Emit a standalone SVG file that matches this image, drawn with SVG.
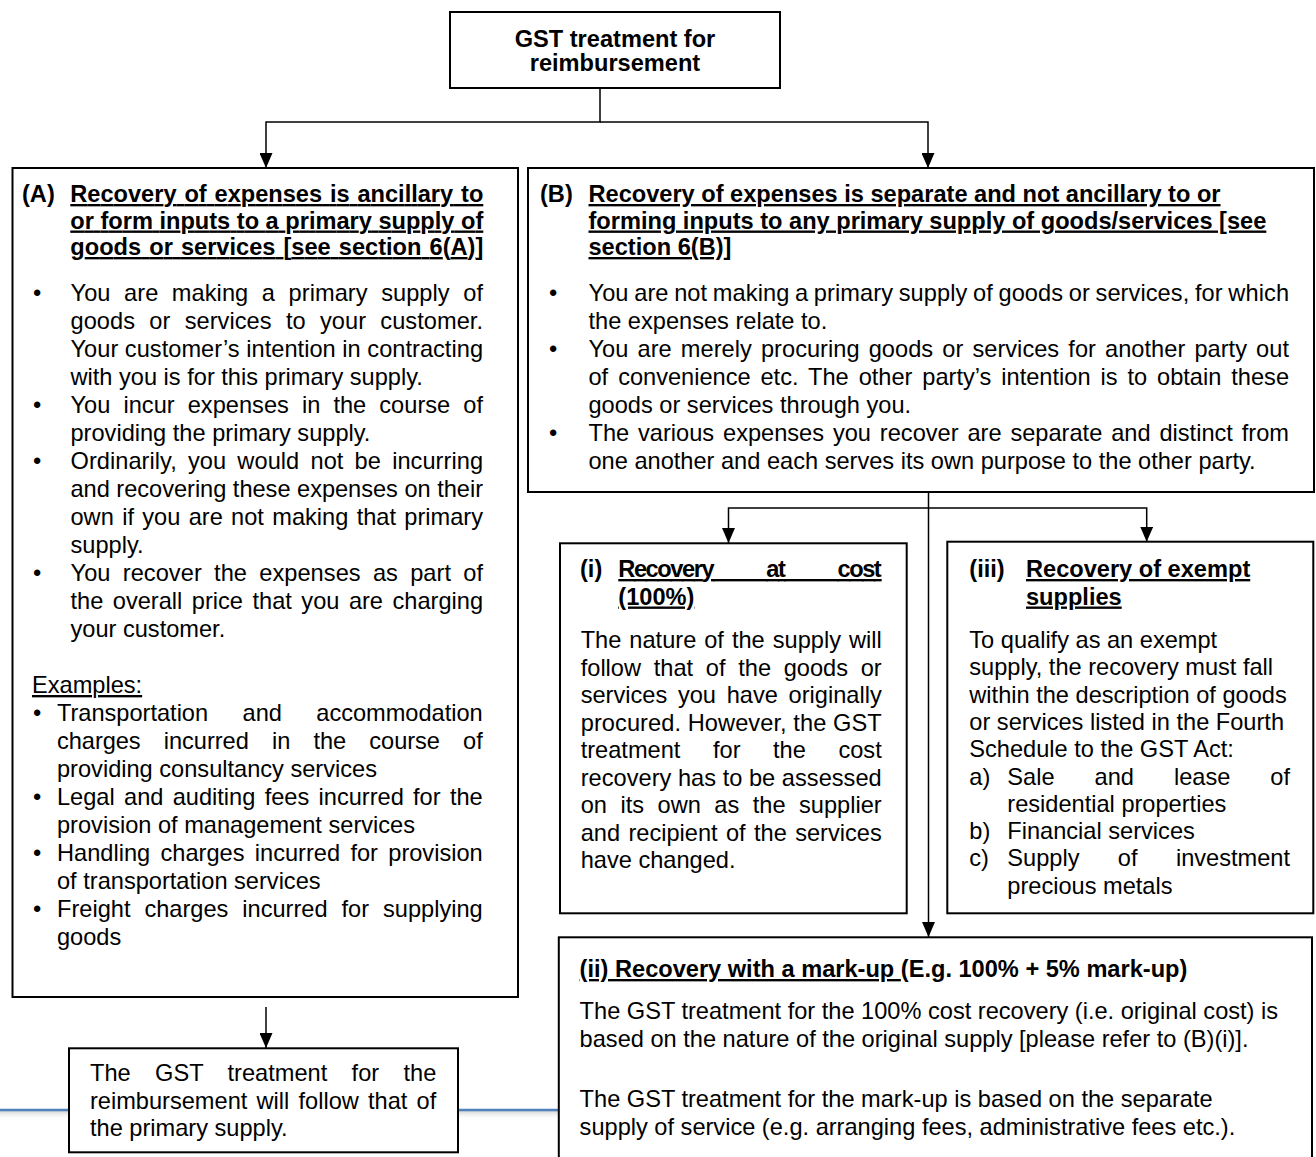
<svg xmlns="http://www.w3.org/2000/svg" width="1316" height="1157" viewBox="0 0 1316 1157">
<style>
.t{font-family:"Liberation Sans",Arial,sans-serif;font-size:23.6px;fill:#000}
.b{font-weight:bold}
.u{text-decoration:underline}
.box{fill:#fff;stroke:#000;stroke-width:2}
.conn{fill:none;stroke:#000;stroke-width:1.5}
.blue{fill:none;stroke:#4f81bd;stroke-width:2.4}
</style>
<defs>
<marker id="arr" markerUnits="userSpaceOnUse" viewBox="0 0 15 13" markerWidth="15" markerHeight="13" refX="15" refY="6.5" orient="auto">
<path d="M0,0 L15,6.5 L0,13 z" fill="#000"/>
</marker>
<linearGradient id="shade" x1="0" y1="0" x2="0" y2="1">
<stop offset="0" stop-color="#d4d4d4"/>
<stop offset="1" stop-color="#ffffff" stop-opacity="0"/>
</linearGradient>
</defs>
<rect width="1316" height="1157" fill="#fff"/>

<g id="decor-line">
<rect x="0" y="1111" width="560" height="9" fill="url(#shade)"/>
<line class="blue" x1="0" y1="1110" x2="560" y2="1110"/>
</g>

<g id="connectors">
<path class="conn" d="M600,88 V122 H266 V168" marker-end="url(#arr)"/>
<path class="conn" d="M600,122 H928 V168" marker-end="url(#arr)"/>
<path class="conn" d="M928.5,492 V937" marker-end="url(#arr)"/>
<path class="conn" d="M928.5,508 H728.5 V543" marker-end="url(#arr)"/>
<path class="conn" d="M928.5,508 H1146.7 V541.7" marker-end="url(#arr)"/>
<path class="conn" d="M266,1007 V1048" marker-end="url(#arr)"/>
</g>

<g id="node-top">
<rect class="box" x="450" y="12" width="330" height="76"/>
<text class="t b" x="615" y="46.5" text-anchor="middle">GST treatment for</text>
<text class="t b" x="615" y="71" text-anchor="middle">reimbursement</text>
</g>

<g id="node-A">
<rect class="box" x="12.5" y="168" width="505.5" height="829"/>
<text class="t b" x="22" y="202">(A)</text>
<text class="t b u" x="70.3" y="202" word-spacing="1.3" textLength="413" lengthAdjust="spacing">Recovery of expenses is ancillary to</text>
<text class="t b u" x="70.3" y="228.5" textLength="413" lengthAdjust="spacing">or form inputs to a primary supply of</text>
<text class="t b u" x="70.3" y="255" word-spacing="1.5" textLength="413" lengthAdjust="spacing">goods or services [see section 6(A)]</text>
<text class="t" x="33" y="301">•</text>
<text class="t" x="70.5" y="301" word-spacing="6.9" textLength="412.5" lengthAdjust="spacing">You are making a primary supply of</text>
<text class="t" x="70.5" y="329" word-spacing="7.7" textLength="412.5" lengthAdjust="spacing">goods or services to your customer.</text>
<text class="t" x="70.5" y="357" textLength="412.5" lengthAdjust="spacing">Your customer’s intention in contracting</text>
<text class="t" x="70.5" y="385">with you is for this primary supply.</text>
<text class="t" x="33" y="413">•</text>
<text class="t" x="70.5" y="413" word-spacing="6.45" textLength="412.5" lengthAdjust="spacing">You incur expenses in the course of</text>
<text class="t" x="70.5" y="441">providing the primary supply.</text>
<text class="t" x="33" y="469">•</text>
<text class="t" x="70.5" y="469" word-spacing="4.6" textLength="412.5" lengthAdjust="spacing">Ordinarily, you would not be incurring</text>
<text class="t" x="70.5" y="497" textLength="412.5" lengthAdjust="spacing">and recovering these expenses on their</text>
<text class="t" x="70.5" y="525" word-spacing="1.8" textLength="412.5" lengthAdjust="spacing">own if you are not making that primary</text>
<text class="t" x="70.5" y="553">supply.</text>
<text class="t" x="33" y="581">•</text>
<text class="t" x="70.5" y="581" word-spacing="5.57" textLength="412.5" lengthAdjust="spacing">You recover the expenses as part of</text>
<text class="t" x="70.5" y="609" word-spacing="2.95" textLength="412.5" lengthAdjust="spacing">the overall price that you are charging</text>
<text class="t" x="70.5" y="637">your customer.</text>
<text class="t u" x="32" y="693">Examples:</text>
<text class="t" x="33" y="721">•</text>
<text class="t" x="57" y="721" word-spacing="27.9" textLength="425.7" lengthAdjust="spacing">Transportation and accommodation</text>
<text class="t" x="57" y="749" word-spacing="16.7" textLength="425.7" lengthAdjust="spacing">charges incurred in the course of</text>
<text class="t" x="57" y="777">providing consultancy services</text>
<text class="t" x="33" y="805">•</text>
<text class="t" x="57" y="805" word-spacing="2.73" textLength="425.7" lengthAdjust="spacing">Legal and auditing fees incurred for the</text>
<text class="t" x="57" y="833">provision of management services</text>
<text class="t" x="33" y="861">•</text>
<text class="t" x="57" y="861" word-spacing="3.8" textLength="425.7" lengthAdjust="spacing">Handling charges incurred for provision</text>
<text class="t" x="57" y="889">of transportation services</text>
<text class="t" x="33" y="917">•</text>
<text class="t" x="57" y="917" word-spacing="7.4" textLength="425.7" lengthAdjust="spacing">Freight charges incurred for supplying</text>
<text class="t" x="57" y="945">goods</text>
</g>

<g id="node-B">
<rect class="box" x="528" y="168" width="786" height="324"/>
<text class="t b" x="540" y="202">(B)</text>
<text class="t b u" x="588.5" y="202">Recovery of expenses is separate and not ancillary to or</text>
<text class="t b u" x="588.5" y="228.5">forming inputs to any primary supply of goods/services [see</text>
<text class="t b u" x="588.5" y="255">section 6(B)]</text>
<text class="t" x="549" y="301">•</text>
<text class="t" x="588.5" y="301" word-spacing="-1" textLength="700.5" lengthAdjust="spacing">You are not making a primary supply of goods or services, for which</text>
<text class="t" x="588.5" y="329">the expenses relate to.</text>
<text class="t" x="549" y="357">•</text>
<text class="t" x="588.5" y="357" word-spacing="2.5" textLength="700.5" lengthAdjust="spacing">You are merely procuring goods or services for another party out</text>
<text class="t" x="588.5" y="385" word-spacing="3.41" textLength="700.5" lengthAdjust="spacing">of convenience etc. The other party’s intention is to obtain these</text>
<text class="t" x="588.5" y="413">goods or services through you.</text>
<text class="t" x="549" y="441">•</text>
<text class="t" x="588.5" y="441" word-spacing="2.34" textLength="700.5" lengthAdjust="spacing">The various expenses you recover are separate and distinct from</text>
<text class="t" x="588.5" y="469">one another and each serves its own purpose to the other party.</text>
</g>

<g id="node-i">
<rect class="box" x="560" y="543.3" width="346.7" height="370"/>
<text class="t b" x="580" y="577">(i)</text>
<text class="t b u" x="618.3" y="577" word-spacing="48" textLength="263.4" lengthAdjust="spacing">Recovery at cost</text>
<text class="t b u" x="618.3" y="604.5">(100%)</text>
<text class="t" x="580.7" y="648" word-spacing="1.44" textLength="301" lengthAdjust="spacing">The nature of the supply will</text>
<text class="t" x="580.7" y="675.5" word-spacing="6.16" textLength="301" lengthAdjust="spacing">follow that of the goods or</text>
<text class="t" x="580.7" y="703" word-spacing="4.17" textLength="301" lengthAdjust="spacing">services you have originally</text>
<text class="t" x="580.7" y="730.5" textLength="301" lengthAdjust="spacing">procured. However, the GST</text>
<text class="t" x="580.7" y="758" word-spacing="26" textLength="301" lengthAdjust="spacing">treatment for the cost</text>
<text class="t" x="580.7" y="785.5" textLength="301" lengthAdjust="spacing">recovery has to be assessed</text>
<text class="t" x="580.7" y="813" word-spacing="6.94" textLength="301" lengthAdjust="spacing">on its own as the supplier</text>
<text class="t" x="580.7" y="840.5" word-spacing="1.8" textLength="301" lengthAdjust="spacing">and recipient of the services</text>
<text class="t" x="580.7" y="868">have changed.</text>
</g>

<g id="node-iii">
<rect class="box" x="947.3" y="541.7" width="366" height="371.6"/>
<text class="t b" x="969.3" y="577">(iii)</text>
<text class="t b u" x="1026" y="577">Recovery of exempt</text>
<text class="t b u" x="1026" y="604.5">supplies</text>
<text class="t" x="969.3" y="648">To qualify as an exempt</text>
<text class="t" x="969.3" y="675.3">supply, the recovery must fall</text>
<text class="t" x="969.3" y="702.6">within the description of goods</text>
<text class="t" x="969.3" y="729.9">or services listed in the Fourth</text>
<text class="t" x="969.3" y="757.2">Schedule to the GST Act:</text>
<text class="t" x="969.3" y="784.5">a)</text>
<text class="t" x="1007.3" y="784.5" word-spacing="33.4" textLength="282.7" lengthAdjust="spacing">Sale and lease of</text>
<text class="t" x="1007.3" y="811.8">residential properties</text>
<text class="t" x="969.3" y="839.1">b)</text>
<text class="t" x="1007.3" y="839.1">Financial services</text>
<text class="t" x="969.3" y="866.4">c)</text>
<text class="t" x="1007.3" y="866.4" word-spacing="31.8" textLength="282.7" lengthAdjust="spacing">Supply of investment</text>
<text class="t" x="1007.3" y="893.7">precious metals</text>
</g>

<g id="node-ii">
<rect class="box" x="558.8" y="937.3" width="753.2" height="240"/>
<text class="t b" x="579.6" y="977"><tspan class="u">(ii) Recovery with a mark-up </tspan>(E.g. 100% + 5% mark-up)</text>
<text class="t" x="579.6" y="1019">The GST treatment for the 100% cost recovery (i.e. original cost) is</text>
<text class="t" x="579.6" y="1047">based on the nature of the original supply [please refer to (B)(i)].</text>
<text class="t" x="579.6" y="1107">The GST treatment for the mark-up is based on the separate</text>
<text class="t" x="579.6" y="1135">supply of service (e.g. arranging fees, administrative fees etc.).</text>
</g>

<g id="node-result">
<rect class="box" x="69" y="1048.3" width="389" height="104"/>
<text class="t" x="90" y="1081" word-spacing="17.7" textLength="346.3" lengthAdjust="spacing">The GST treatment for the</text>
<text class="t" x="90" y="1108.5" word-spacing="2.65" textLength="346.3" lengthAdjust="spacing">reimbursement will follow that of</text>
<text class="t" x="90" y="1136">the primary supply.</text>
</g>
</svg>
